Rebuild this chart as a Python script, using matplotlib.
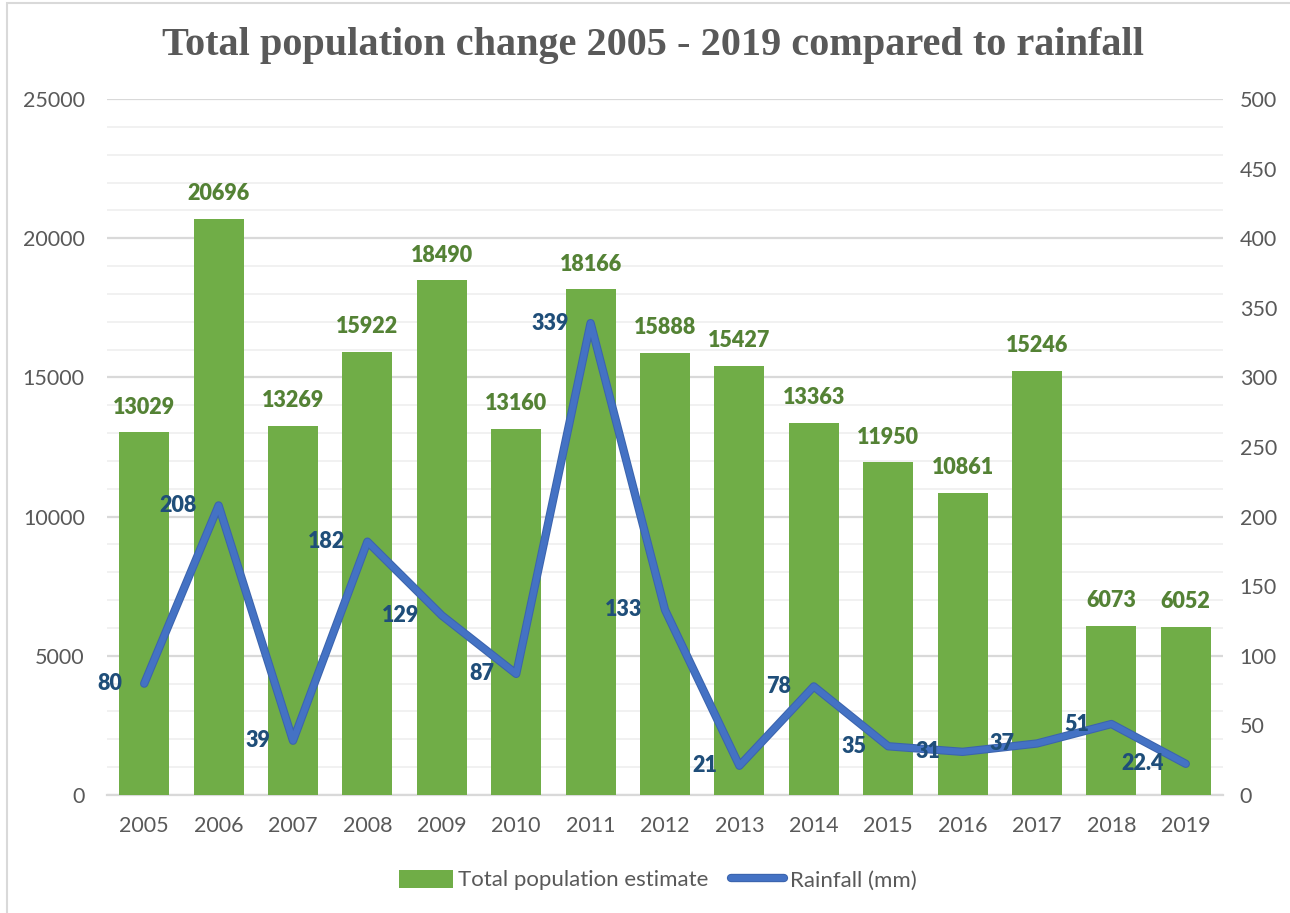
import numpy as np
import matplotlib.pyplot as plt
import matplotlib.patheffects as pe
from matplotlib.patches import Rectangle
from matplotlib.ticker import MultipleLocator

years = ["2005", "2006", "2007", "2008", "2009", "2010", "2011", "2012",
         "2013", "2014", "2015", "2016", "2017", "2018", "2019"]
population = [13029, 20696, 13269, 15922, 18490, 13160, 18166, 15888,
              15427, 13363, 11950, 10861, 15246, 6073, 6052]
rainfall = [80, 208, 39, 182, 129, 87, 339, 133, 21, 78, 35, 31, 37, 51, 22.4]
rain_labels = ["80", "208", "39", "182", "129", "87", "339", "133", "21",
               "78", "35", "31", "37", "51", "22.4"]

green = "#70ad47"
green_txt = "#548235"
blue = "#4472c4"
blue_txt = "#1f4e79"
grey_txt = "#595959"

plt.rcParams['font.family'] = ['Lato', 'DejaVu Sans']

fig = plt.figure(figsize=(12.9, 9.13), dpi=100)
fig.patches.append(Rectangle((7 / 1290, -0.01), 1.1, 1 - 3 / 913 + 0.01,
                             transform=fig.transFigure, fill=False,
                             edgecolor="#d9d9d9", linewidth=1.5))

ax = fig.add_axes([107 / 1290, 1 - 795 / 913, (1223 - 107) / 1290, (795 - 99) / 913])
x = np.arange(len(years))

bars = ax.bar(x, population, width=0.67, color=green, zorder=3,
              label="Total population estimate")
for xi, v in zip(x, population):
    ax.annotate(str(v), (xi, v), xytext=(0, 18), textcoords="offset points",
                ha="center", va="center", fontsize=15.5, fontweight="heavy",
                color=green_txt, zorder=5)

ax.set_xlim(-0.5, len(years) - 0.5)
ax.set_ylim(0, 25000)
ax.yaxis.set_major_locator(MultipleLocator(5000))
ax.yaxis.set_minor_locator(MultipleLocator(1000))
ax.grid(which="major", axis="y", color="#d9d9d9", linewidth=1.6, zorder=0)
ax.grid(which="minor", axis="y", color="#f0f0f0", linewidth=1.3, zorder=0)
ax.set_xticks(x)
ax.set_xticklabels(years)
ax.tick_params(axis="both", which="both", length=0, labelsize=15.5,
               labelcolor=grey_txt)
ax.tick_params(axis="x", pad=15)
ax.tick_params(axis="y", pad=16)
for s in ["top", "right", "left"]:
    ax.spines[s].set_visible(False)
ax.spines["bottom"].set_color("#d9d9d9")
ax.spines["bottom"].set_linewidth(1.6)

ax2 = ax.twinx()
line, = ax2.plot(x, rainfall, color=blue, linewidth=4.5, zorder=4,
                 solid_joinstyle="round", solid_capstyle="round",
                 label="Rainfall (mm)",
                 path_effects=[pe.Stroke(linewidth=6, foreground="#3b64ad"),
                               pe.Normal()])
for xi, v, lab in zip(x, rainfall, rain_labels):
    ax2.annotate(lab, (xi, v), xytext=(-16, 0), textcoords="offset points",
                 ha="right", va="center", fontsize=15.5, fontweight="heavy",
                 color=blue_txt, zorder=5)
ax2.set_ylim(0, 500)
ax2.yaxis.set_major_locator(MultipleLocator(50))
ax2.tick_params(axis="y", length=0, labelsize=15.5, labelcolor=grey_txt, pad=12)
for s in ax2.spines.values():
    s.set_visible(False)
ax.set_zorder(ax2.get_zorder() - 1)
ax.patch.set_visible(False)

fig.text(0.506, 1 - 46 / 913, "Total population change 2005 - 2019 compared to rainfall",
         ha="center", va="center", fontsize=29, fontweight="bold",
         color=grey_txt, family="Liberation Serif")

fig.legend([bars, line], ["Total population estimate", "Rainfall (mm)"],
           loc="center", bbox_to_anchor=(0.51, 1 - 880 / 913), ncol=2,
           frameon=False, fontsize=16, labelcolor=grey_txt,
           handlelength=2.4, handleheight=0.9, handletextpad=0.25,
           columnspacing=1.0)

fig.savefig("out.png", dpi=100)
